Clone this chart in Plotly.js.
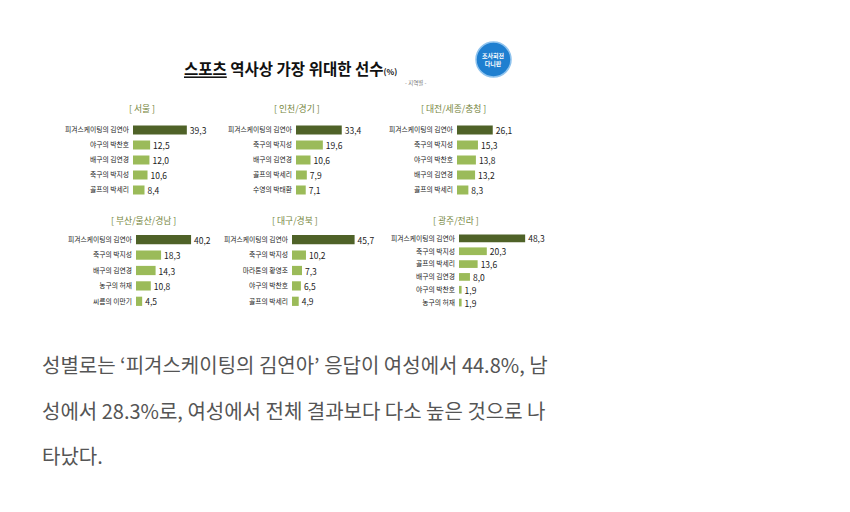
<!DOCTYPE html>
<html>
<head>
<meta charset="utf-8">
<script src="https://cdn.plot.ly/plotly-3.0.1.min.js"></script>
<style>html,body{margin:0;padding:0;background:#fff;}#chart{width:850px;height:512px;}</style>
</head>
<body>
<div id="chart"></div>
<script>
// ---- data ----
const regionTitles = ['[ 서울 ]', '[ 인천/경기 ]', '[ 대전/세종/충청 ]', '[ 부산/울산/경남 ]', '[ 대구/경북 ]', '[ 광주/전라 ]'];

const seoulNames = ['피겨스케이팅의 김연아', '야구의 박찬호', '배구의 김연경', '축구의 박지성', '골프의 박세리'];
const seoulValues = [39.3, 12.5, 12.0, 10.6, 8.4];

const incheonNames = ['피겨스케이팅의 김연아', '축구의 박지성', '배구의 김연경', '골프의 박세리', '수영의 박태환'];
const incheonValues = [33.4, 19.6, 10.6, 7.9, 7.1];

const daejeonNames = ['피겨스케이팅의 김연아', '축구의 박지성', '야구의 박찬호', '배구의 김연경', '골프의 박세리'];
const daejeonValues = [26.1, 15.3, 13.8, 13.2, 8.3];

const busanNames = ['피겨스케이팅의 김연아', '축구의 박지성', '배구의 김연경', '농구의 허재', '씨름의 이만기'];
const busanValues = [40.2, 18.3, 14.3, 10.8, 4.5];

const daeguNames = ['피겨스케이팅의 김연아', '축구의 박지성', '마라톤의 황영조', '야구의 박찬호', '골프의 박세리'];
const daeguValues = [45.7, 10.2, 7.3, 6.5, 4.9];

const gwangjuNames = ['피겨스케이팅의 김연아', '축구의 박지성', '골프의 박세리', '배구의 김연경', '야구의 박찬호', '농구의 허재'];
const gwangjuValues = [48.3, 20.3, 13.6, 8.0, 1.9, 1.9];

const chartTitle = '스포츠 역사상 가장 위대한 선수';
const chartUnit = '(%)';
const chartSubtitle = '- 지역별 -';
const logoText = '조사회전<br>다니판';
const bodyLines = [
  '성별로는 ‘피겨스케이팅의 김연아’ 응답이 여성에서 44.8%, 남',
  '성에서 28.3%로, 여성에서 전체 결과보다 다소 높은 것으로 나',
  '타났다.'
];

const panelNames = [seoulNames, incheonNames, daejeonNames, busanNames, daeguNames, gwangjuNames];
const panelValues = [seoulValues, incheonValues, daejeonValues, busanValues, daeguValues, gwangjuValues];

// ---- layout geometry (pixels) ----
const W = 850, H = 512;
const fx = x => x / W;
const fy = y => 1 - y / H;
const barStartX = [133, 296, 457, 136, 292, 459];
const panelW = 80;
const xMax = 58.4;
const rowTop = [122.5, 232];
const rowBot = [197.5, 309];
const headerX = [142, 297, 453, 143, 295, 456];
const headerY = [108, 108, 108, 220, 220, 220];

const DARK = '#4f6228', LIGHT = '#9bbb59';
const KFONT = '"Noto Sans CJK KR", "Noto Sans", sans-serif';

const traces = [];
const layout = {
  width: W, height: H,
  margin: {l: 0, r: 0, t: 0, b: 0},
  paper_bgcolor: '#fff', plot_bgcolor: '#fff',
  showlegend: false,
  separators: ', ',
  font: {family: KFONT, color: '#333'},
  annotations: [],
  shapes: []
};

panelNames.forEach((names, i) => {
  const row = i < 3 ? 0 : 1;
  const s = i === 0 ? '' : String(i + 1);
  const vals = panelValues[i];
  traces.push({
    type: 'bar', orientation: 'h',
    x: vals, y: names,
    xaxis: 'x' + s, yaxis: 'y' + s,
    width: 0.6,
    marker: {color: vals.map((v, k) => k === 0 ? DARK : LIGHT)},
    texttemplate: '%{x:.1f}',
    textposition: 'outside',
    constraintext: 'none',
    cliponaxis: false,
    textfont: {size: 8.5, color: '#222', family: KFONT},
    hoverinfo: 'skip'
  });
  layout['xaxis' + s] = {
    domain: [fx(barStartX[i]), fx(barStartX[i] + panelW)],
    range: [0, xMax], visible: false, fixedrange: true,
    anchor: 'y' + s
  };
  layout['yaxis' + s] = {
    domain: [fy(rowBot[row]), fy(rowTop[row])],
    anchor: 'x' + s,
    type: 'category',
    autorange: 'reversed',
    showgrid: false, zeroline: false, showline: false, ticks: '',
    ticklabelstandoff: 3,
    tickfont: {size: 6.8, color: '#222', family: KFONT},
    fixedrange: true
  };
  layout.annotations.push({
    text: regionTitles[i], xref: 'paper', yref: 'paper',
    x: fx(headerX[i]), y: fy(headerY[i]), xanchor: 'center', yanchor: 'middle',
    showarrow: false, font: {size: 8.8, color: '#76863e', family: KFONT}
  });
});

layout.title = {
  text: '<u>' + chartTitle.split(' ')[0] + '</u> ' + chartTitle.split(' ').slice(1).join(' ') +
        '<span style="font-size:8px">' + chartUnit + '</span>',
  x: fx(184), xanchor: 'left', y: fy(70), yanchor: 'middle',
  xref: 'paper', yref: 'container',
  font: {size: 15.5, color: '#111', family: KFONT, weight: 'bold'}
};

layout.annotations.push({
  text: chartSubtitle, xref: 'paper', yref: 'paper',
  x: fx(416), y: fy(83), xanchor: 'center', yanchor: 'middle',
  showarrow: false, font: {size: 5.5, color: '#777', family: KFONT}
});

// logo
layout.shapes.push({
  type: 'circle', xref: 'paper', yref: 'paper',
  x0: fx(476), x1: fx(511), y0: fy(77), y1: fy(42),
  fillcolor: '#1f7fd0', line: {color: '#8fc3ee', width: 1.5}
});
layout.annotations.push({
  text: '<b>' + logoText + '</b>', xref: 'paper', yref: 'paper',
  x: fx(493.5), y: fy(59.5), xanchor: 'center', yanchor: 'middle',
  showarrow: false, font: {size: 6, color: '#fff', family: KFONT}
});

// body text
const bodyY = [364, 410, 455];
bodyLines.forEach((t, k) => {
  layout.annotations.push({
    text: t, xref: 'paper', yref: 'paper',
    x: fx(40), y: fy(bodyY[k]), xanchor: 'left', yanchor: 'middle',
    showarrow: false, font: {size: 20, color: '#555', family: KFONT}
  });
});

Plotly.newPlot('chart', traces, layout, {displayModeBar: false, staticPlot: true});
</script>
</body>
</html>
